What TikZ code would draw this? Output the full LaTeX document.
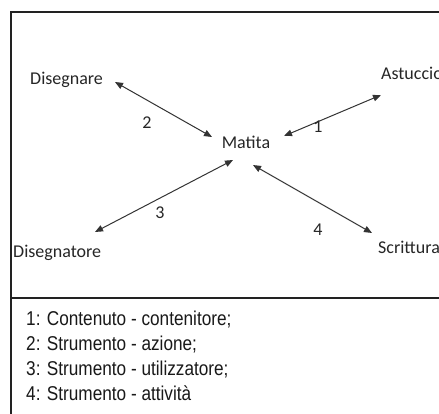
\documentclass[tikz,border=0pt]{standalone}
\usepackage{fontspec}
\setmainfont{Carlito}
\newfontfamily\legendfont[FakeStretch=0.86]{Liberation Sans}
\usetikzlibrary{arrows.meta}
\definecolor{ink}{HTML}{262626}
\definecolor{lineink}{HTML}{333333}
\definecolor{frameink}{HTML}{222222}
\tikzset{
  frame/.style={draw=frameink, line width=1.3pt},
  concept/.style={inner sep=0pt, text=ink, font=\fontsize{18}{21}\selectfont, anchor=base},
  numlabel/.style={inner sep=0pt, text=ink, font=\fontsize{18}{21}\selectfont},
  legend/.style={inner sep=0pt, text=black!90, font=\legendfont\fontsize{20}{23}\selectfont, anchor=base west},
  rel/.style={draw=lineink, line width=1pt, {Triangle[length=8pt,width=6.5pt]}-{Triangle[length=8pt,width=6.5pt]}}
}
\begin{document}
\begin{tikzpicture}[x=1pt,y=-1pt]
\useasboundingbox (0,0) rectangle (439,414);
\fill[white] (0,0) rectangle (439,414);
\draw[frame] (439,12) -- (11,12) -- (11,414);
\draw[frame] (11,298) -- (439,298);
% concepts
\node[concept] (mat) at (246,149) {Matita};
\node[concept, anchor=base west] (dis) at (30,85) {Disegnare};
\node[concept, anchor=base west] (ast) at (381,80) {Astuccio};
\node[concept, anchor=base west] (dtr) at (13,258) {Disegnatore};
\node[concept, anchor=base west] (scr) at (378,254) {Scrittura};
% arrow tips
\coordinate (d2a) at (115,82);  \coordinate (d2b) at (212,137);
\coordinate (d1a) at (381,95);  \coordinate (d1b) at (284,136);
\coordinate (d3a) at (233,160); \coordinate (d3b) at (95,232);
\coordinate (d4a) at (253,165); \coordinate (d4b) at (372,233);
\draw[rel] (d2a) -- (d2b);
\draw[rel] (d1a) -- (d1b);
\draw[rel] (d3a) -- (d3b);
\draw[rel] (d4a) -- (d4b);
% numbers
\node[numlabel] (n2) at (147,123) {2};
\node[numlabel] (n1) at (318,127) {1};
\node[numlabel] (n3) at (160,213) {3};
\node[numlabel] (n4) at (318,230) {4};
% legend
\node[legend] (l1) at (26,325) {1: Contenuto - contenitore;};
\node[legend] (l2) at (26,350.5) {2: Strumento - azione;};
\node[legend] (l3) at (26,375.5) {3: Strumento - utilizzatore;};
\node[legend] (l4) at (26,400) {4: Strumento - attività};
\end{tikzpicture}
\end{document}
